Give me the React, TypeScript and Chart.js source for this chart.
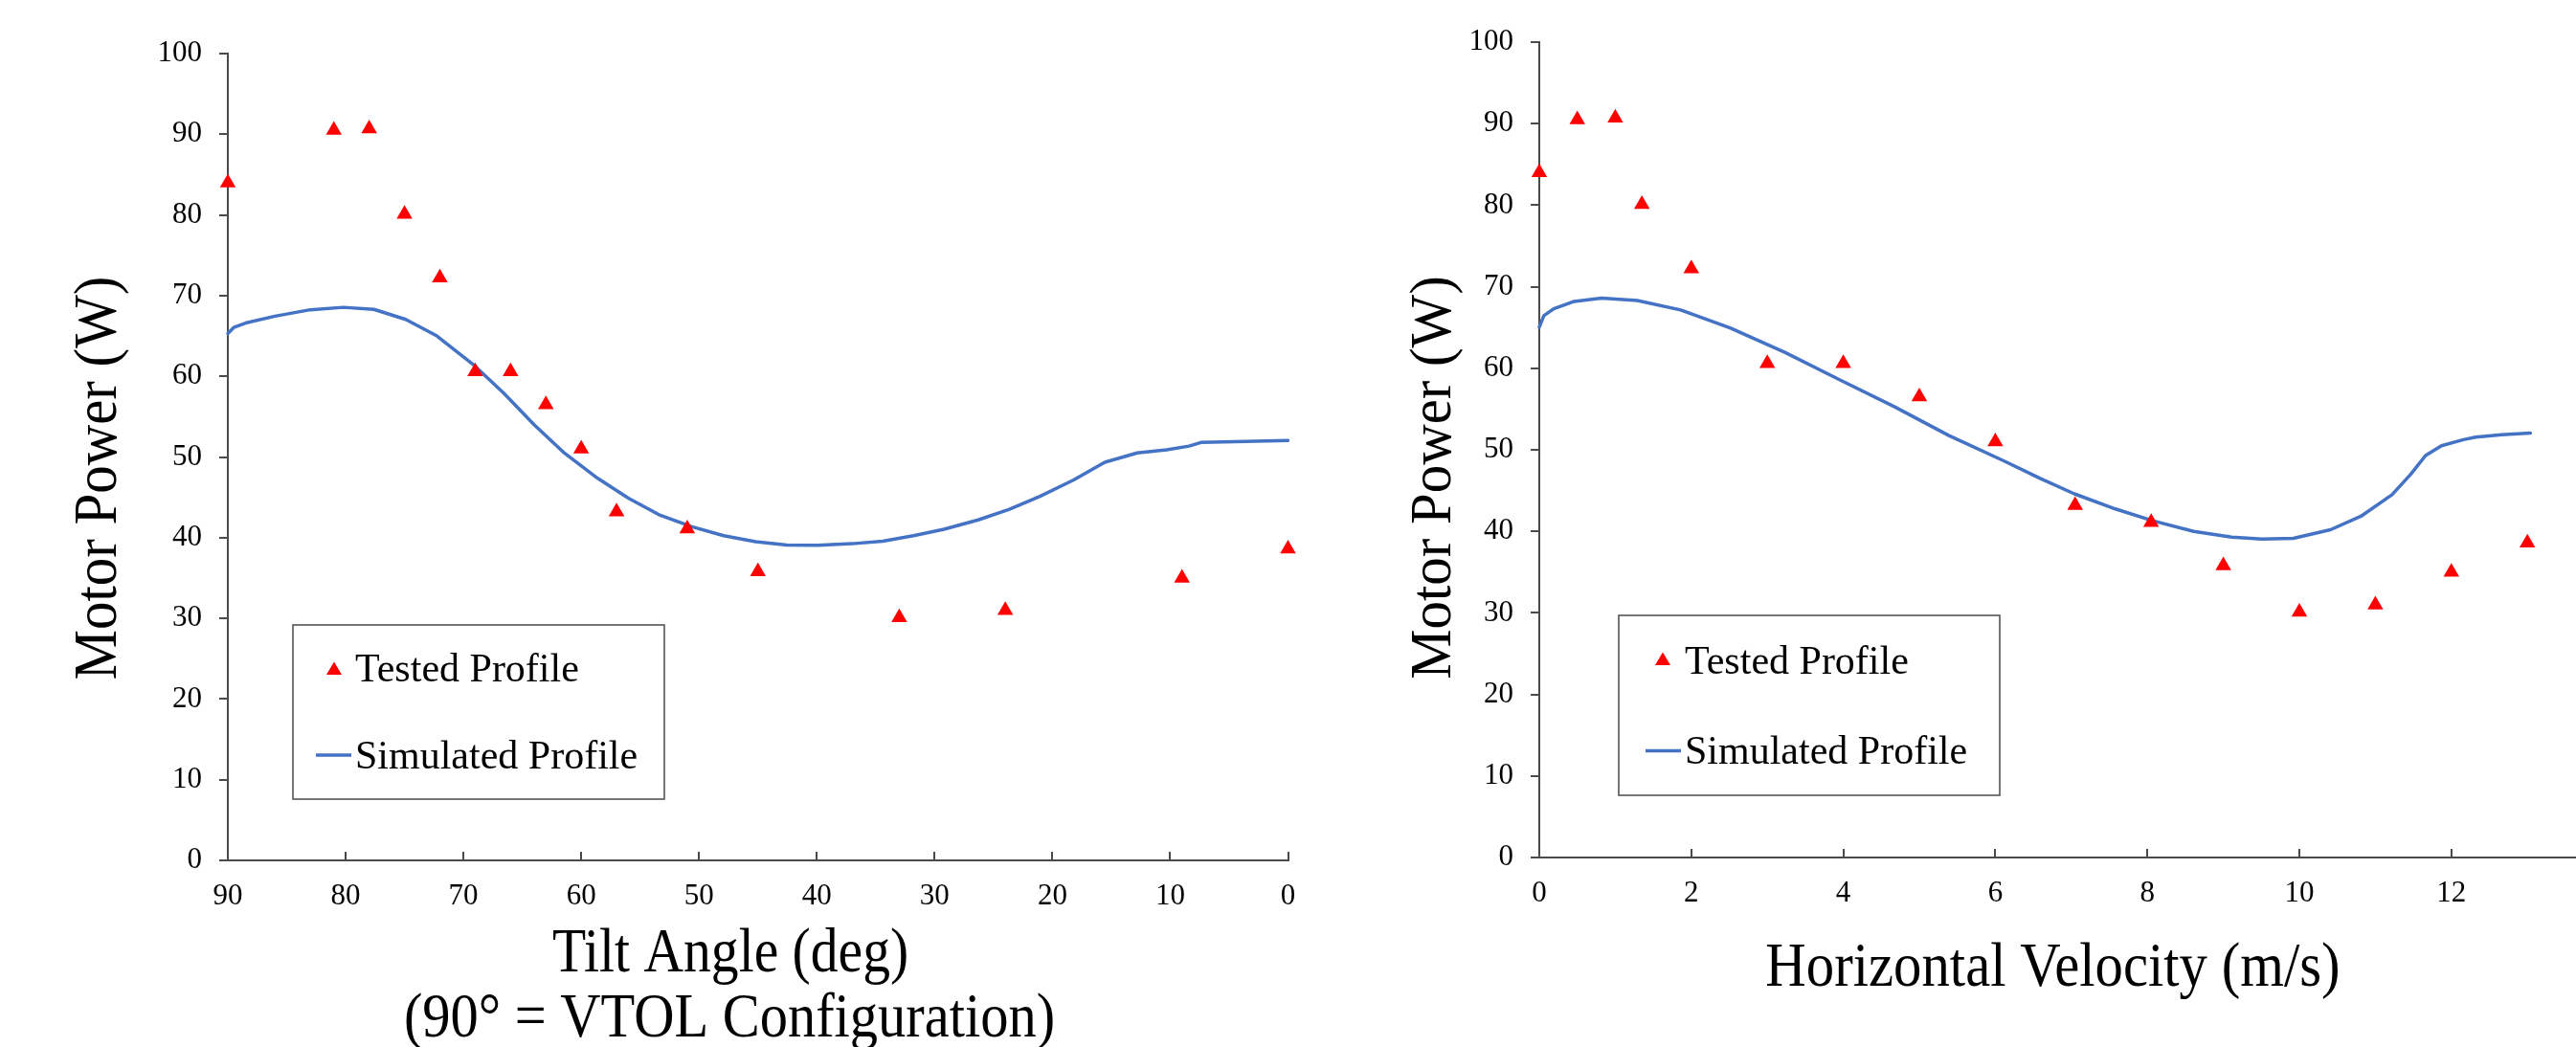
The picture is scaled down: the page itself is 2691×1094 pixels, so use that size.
import React, { useEffect, useRef } from "react";
import { Chart, registerables } from "chart.js";

Chart.register(...registerables);

// ---------------- data ----------------
const tiltAngles = [90, 81, 78, 75, 72, 69, 66, 63, 60, 57, 51, 45, 33, 24, 9, 0];
const velocities = [0, 0.5, 1, 1.35, 2, 3, 4, 5, 6, 7.05, 8.05, 9, 10, 11, 12, 13];
const testedPower = [84.0, 90.5, 90.7, 80.1, 72.2, 60.6, 60.6, 56.5, 51.0, 43.2, 41.1, 35.8, 30.1, 31.0, 35.0, 38.6];

const simTiltAngles = [90, 89.5, 88.5, 86, 83, 80.2, 77.6, 74.9, 72.25, 69.2, 66.6, 64, 61.4, 58.6, 56, 53.4, 50.6, 47.9, 45.2, 42.55, 39.9, 37, 34.4, 31.8, 29.2, 26.3, 23.7, 21.1, 18.2, 15.55, 12.8, 10.3, 8.4, 7.4, 4.5, 0];
const simTiltPower = [65.3, 66.05, 66.6, 67.45, 68.25, 68.55, 68.3, 67.05, 65.0, 61.5, 57.95, 54.0, 50.45, 47.35, 44.9, 42.85, 41.35, 40.25, 39.5, 39.1, 39.05, 39.25, 39.55, 40.25, 41.05, 42.2, 43.5, 45.1, 47.15, 49.35, 50.5, 50.9, 51.35, 51.8, 51.9, 52.05];

const simVelocities = [0, 0.06, 0.19, 0.46, 0.82, 1.29, 1.86, 2.51, 3.23, 3.95, 4.67, 5.39, 6.11, 6.59, 7.04, 7.58, 8.07, 8.61, 9.11, 9.51, 9.92, 10.41, 10.81, 11.22, 11.47, 11.66, 11.87, 12.16, 12.32, 12.66, 13.04];
const simVelPower = [65.05, 66.45, 67.3, 68.2, 68.6, 68.3, 67.15, 64.95, 61.95, 58.6, 55.3, 51.75, 48.65, 46.5, 44.6, 42.75, 41.3, 40.0, 39.3, 39.05, 39.15, 40.2, 41.85, 44.5, 47.05, 49.3, 50.5, 51.25, 51.55, 51.85, 52.05];

const powerTicks = [0, 10, 20, 30, 40, 50, 60, 70, 80, 90, 100];
const tiltTicks = [90, 80, 70, 60, 50, 40, 30, 20, 10, 0];
const velocityTicks = [0, 2, 4, 6, 8, 10, 12, 14];

const seriesLabels = ["Tested Profile", "Simulated Profile"];
const yAxisTitle = "Motor Power (W)";
const leftXTitle = ["Tilt Angle (deg)", "(90\u00B0 = VTOL Configuration)"];
const rightXTitle = "Horizontal Velocity (m/s)";

// ---------------- styles ----------------
const SERIF = '"Liberation Serif", "Times New Roman", serif';
const BLUE = "#4472C4";
const RED = "#FF0000";
const AXIS = "#4a4a4a";

function overlayPlugin(spec: any) {
  return {
    id: "overlay",
    afterDraw(chart: any) {
      const ctx = chart.ctx;
      const ox = spec.offsetX;
      ctx.save();
      ctx.fillStyle = "#000";
      for (const t of spec.titles) {
        ctx.save();
        ctx.font = `${t.size}px ${SERIF}`;
        ctx.textAlign = "center";
        ctx.textBaseline = "alphabetic";
        const m = ctx.measureText(t.text);
        const ink = (m.actualBoundingBoxLeft || 0) + (m.actualBoundingBoxRight || 0) || m.width;
        const sx = t.width / ink;
        ctx.translate(t.x - ox, t.y);
        if (t.rotate) ctx.rotate(-Math.PI / 2);
        ctx.scale(sx, 1);
        ctx.fillText(t.text, 0, 0);
        ctx.restore();
      }
      const L = spec.legend;
      ctx.strokeStyle = AXIS;
      ctx.lineWidth = 1.5;
      ctx.strokeRect(L.box[0] - ox, L.box[1], L.box[2] - L.box[0], L.box[3] - L.box[1]);
      ctx.fillStyle = RED;
      ctx.beginPath();
      ctx.moveTo(L.tri[0] - ox, L.tri[1] - 7.5);
      ctx.lineTo(L.tri[0] - ox + 8, L.tri[1] + 6);
      ctx.lineTo(L.tri[0] - ox - 8, L.tri[1] + 6);
      ctx.closePath();
      ctx.fill();
      ctx.strokeStyle = BLUE;
      ctx.lineWidth = 3.5;
      ctx.beginPath();
      ctx.moveTo(L.line[0] - ox, L.line[2]);
      ctx.lineTo(L.line[1] - ox, L.line[2]);
      ctx.stroke();
      ctx.fillStyle = "#000";
      ctx.font = `42px ${SERIF}`;
      ctx.textAlign = "left";
      ctx.textBaseline = "alphabetic";
      ctx.fillText(seriesLabels[0], L.textX - ox, L.base1);
      ctx.fillText(seriesLabels[1], L.textX - ox, L.base2);
      ctx.restore();
    },
  };
}

function makeConfig(o: any) {
  const tickFont = { family: SERIF, size: 31 };
  return {
    type: "scatter",
    data: {
      datasets: [
        {
          label: seriesLabels[0],
          data: o.xTested.map((x: number, i: number) => ({ x, y: testedPower[i] })),
          pointStyle: "triangle",
          pointRadius: 9.5,
          backgroundColor: RED,
          borderColor: RED,
          borderWidth: 0,
          showLine: false,
          clip: false,
        },
        {
          label: seriesLabels[1],
          data: o.xSim.map((x: number, i: number) => ({ x, y: o.ySim[i] })),
          showLine: true,
          borderColor: BLUE,
          borderWidth: 3.5,
          pointRadius: 0,
          tension: 0,
          fill: false,
          clip: false,
          borderCapStyle: "round",
          borderJoinStyle: "round",
        },
      ],
    },
    options: {
      animation: false,
      responsive: false,
      maintainAspectRatio: false,
      events: [],
      layout: { padding: o.padding },
      plugins: { legend: { display: false }, tooltip: { enabled: false }, title: { display: false } },
      scales: {
        x: {
          type: "linear",
          reverse: o.reverse,
          min: o.xMin,
          max: o.xMax,
          afterBuildTicks: (s: any) => {
            s.ticks = o.xTicks.map((v: number) => ({ value: v }));
          },
          afterFit: (s: any) => {
            s.height = o.xAxisHeight;
          },
          ticks: { font: tickFont, color: "#000", padding: 28, maxRotation: 0, autoSkip: false },
          grid: { drawOnChartArea: false, drawTicks: true, tickLength: -9, color: AXIS, lineWidth: 2 },
          border: { display: true, color: AXIS, width: 2 },
        },
        y: {
          type: "linear",
          min: 0,
          max: 100,
          afterBuildTicks: (s: any) => {
            s.ticks = powerTicks.map((v) => ({ value: v }));
          },
          afterFit: (s: any) => {
            s.width = o.yAxisWidth;
          },
          ticks: { font: tickFont, color: "#000", padding: 18 },
          grid: { drawOnChartArea: false, drawTicks: true, tickLength: 9, color: AXIS, lineWidth: 2 },
          border: { display: true, color: AXIS, width: 2 },
        },
      },
    },
    plugins: [overlayPlugin(o.overlay)],
  };
}

function ChartCanvas({ config, left, width, height }: any) {
  const ref = useRef<HTMLCanvasElement | null>(null);
  useEffect(() => {
    if (!ref.current) return;
    const chart = new Chart(ref.current, config as any);
    return () => chart.destroy();
  }, []);
  return (
    <canvas
      ref={ref}
      width={width}
      height={height}
      style={{ position: "absolute", left, top: 0, width, height, display: "block" }}
    />
  );
}

const leftConfig = makeConfig({
  xTested: tiltAngles,
  xSim: simTiltAngles,
  ySim: simTiltPower,
  reverse: true,
  xMin: 0,
  xMax: 90,
  xTicks: tiltTicks,
  padding: { left: 0, top: 56, right: 54.5, bottom: 0 },
  xAxisHeight: 195,
  yAxisWidth: 238,
  overlay: {
    offsetX: 0,
    titles: [
      { text: yAxisTitle, x: 120.5, y: 499.5, size: 63, width: 419, rotate: true },
      { text: leftXTitle[0], x: 763, y: 1015, size: 65, width: 369 },
      { text: leftXTitle[1], x: 762, y: 1083, size: 65, width: 676 },
    ],
    legend: {
      box: [306, 653, 694, 835],
      tri: [349, 699],
      line: [330, 367, 789],
      textX: 371,
      base1: 712,
      base2: 803,
    },
  },
});

const rightConfig = makeConfig({
  xTested: velocities,
  xSim: simVelocities,
  ySim: simVelPower,
  reverse: false,
  xMin: 0,
  xMax: 14,
  xTicks: velocityTicks,
  padding: { left: 0, top: 44, right: 80.4, bottom: 0 },
  xAxisHeight: 198,
  yAxisWidth: 208,
  overlay: {
    offsetX: 1400,
    titles: [
      { text: yAxisTitle, x: 1515, y: 499, size: 62, width: 418, rotate: true },
      { text: rightXTitle, x: 2144.5, y: 1030, size: 65, width: 597 },
    ],
    legend: {
      box: [1691, 643, 2089, 831],
      tri: [1737, 689],
      line: [1719, 1756, 784.5],
      textX: 1760,
      base1: 703.5,
      base2: 797.5,
    },
  },
});

export default function App() {
  return (
    <div
      style={{
        position: "fixed",
        left: 0,
        top: 0,
        width: "100vw",
        height: "100vh",
        overflow: "hidden",
        background: "#fff",
      }}
    >
      <ChartCanvas config={leftConfig} left={0} width={1400} height={1094} />
      <ChartCanvas config={rightConfig} left={1400} width={1400} height={1094} />
    </div>
  );
}
